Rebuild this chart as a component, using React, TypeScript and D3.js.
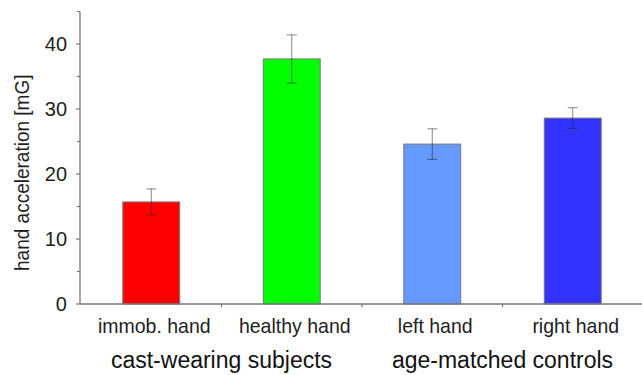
import React from "react";
import * as d3 from "d3";

// Mean hand acceleration per hand, with error half-widths
const categories = ["immob. hand", "healthy hand", "left hand", "right hand"];
const means = [15.7, 37.7, 24.6, 28.6];
const errors = [2.0, 3.7, 2.35, 1.6];
const barColors = ["#ff0000", "#00ff00", "#6699ff", "#3333ff"];
const groups = [
  { label: "cast-wearing subjects", members: ["immob. hand", "healthy hand"] },
  { label: "age-matched controls", members: ["left hand", "right hand"] },
];
const majorTicks = [0, 10, 20, 30, 40];
const minorTicks = [5, 15, 25, 35, 45];

const W = 642;
const H = 375;
const left = 80;
const right = 643;
const top = 11.5;
const bottom = 304;
const font = "'Liberation Sans', Arial, sans-serif";
const axisColor = "#777";
const textColor = "#1e1e1e";

export default function App() {
  const x = d3
    .scaleBand<string>()
    .domain(categories)
    .range([left + 1, right])
    .paddingInner(0.595)
    .paddingOuter(0.2975);
  const y = d3.scaleLinear().domain([0, 45]).range([bottom, top]);
  const step = x.step();
  const bw = x.bandwidth();
  const center = (c: string) => (x(c) as number) + bw / 2;
  const boundaries = categories.map((c) => center(c) + step / 2).slice(0, -1);

  return (
    <svg
      width={W}
      height={H}
      style={{ position: "absolute", left: 0, top: 0, background: "#fff" }}
      fontFamily={font}
    >
      {/* bars */}
      {categories.map((c, i) => (
        <rect
          key={c}
          x={x(c)}
          y={y(means[i])}
          width={bw}
          height={y(0) - y(means[i])}
          fill={barColors[i]}
          stroke="#777"
          strokeWidth={1}
        />
      ))}

      {/* error bars */}
      {categories.map((c, i) => {
        const cx = center(c);
        const hi = y(means[i] + errors[i]);
        const lo = y(means[i] - errors[i]);
        return (
          <g key={c} stroke="#222" strokeOpacity={0.55} strokeWidth={1}>
            <line x1={cx} x2={cx} y1={hi} y2={lo} />
            <line x1={cx - 5} x2={cx + 5} y1={hi} y2={hi} />
            <line x1={cx - 5} x2={cx + 5} y1={lo} y2={lo} />
          </g>
        );
      })}

      {/* y axis */}
      <line x1={left} x2={left} y1={top} y2={bottom} stroke={axisColor} strokeWidth={1.3} />
      {majorTicks.map((t) => (
        <g key={t}>
          <line x1={left - 4} x2={left} y1={y(t)} y2={y(t)} stroke={axisColor} strokeWidth={1.2} />
          <text
            transform={`translate(${left - 13},${y(t)}) scale(1,1.03)`}
            dy="0.36em"
            textAnchor="end"
            fontSize={20}
            fill={textColor}
          >
            {t}
          </text>
        </g>
      ))}
      {minorTicks.map((t) => (
        <line key={t} x1={left - 3} x2={left} y1={y(t)} y2={y(t)} stroke={axisColor} strokeWidth={1.2} />
      ))}
      <text
        transform={`translate(29,${(top + bottom) / 2 + 15}) rotate(-90) scale(1,1.1)`}
        textAnchor="middle"
        fontSize={19}
        fill={textColor}
      >
        hand acceleration [mG]
      </text>

      {/* x axis */}
      <line x1={left} x2={W} y1={bottom} y2={bottom} stroke={axisColor} strokeWidth={1.3} />
      {boundaries.map((b, i) => (
        <line key={i} x1={b} x2={b} y1={bottom} y2={bottom + 3} stroke={axisColor} strokeWidth={1.2} />
      ))}
      {categories.map((c) => (
        <text
          key={c}
          transform={`translate(${center(c) + 3},333) scale(1,1.08)`}
          textAnchor="middle"
          fontSize={19.5}
          fill={textColor}
        >
          {c}
        </text>
      ))}
      {groups.map((g) => {
        const gx = d3.mean(g.members, (m) => center(m)) as number;
        return (
          <text
            key={g.label}
            transform={`translate(${gx},368) scale(1,1.05)`}
            textAnchor="middle"
            fontSize={23}
            fill="#111"
          >
            {g.label}
          </text>
        );
      })}
    </svg>
  );
}
